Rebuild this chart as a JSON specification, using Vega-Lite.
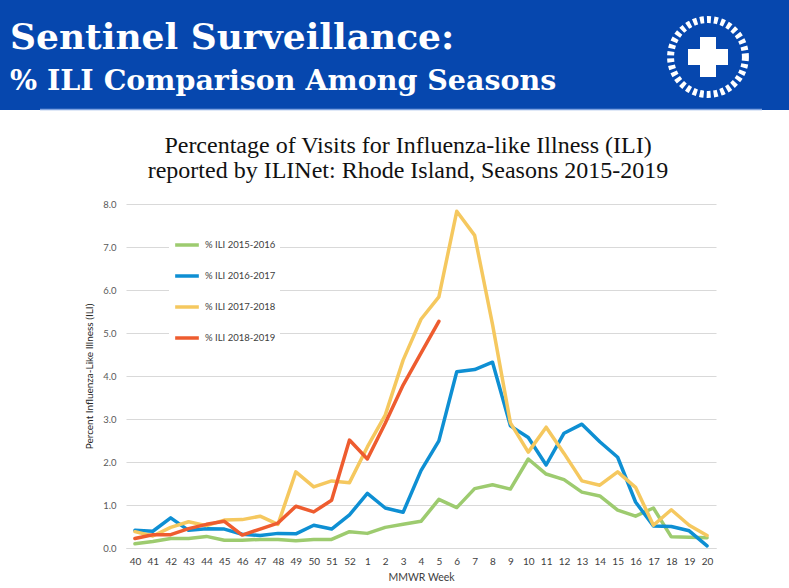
{
  "$schema": "https://vega.github.io/schema/vega-lite/v6.json",
  "description": "Percentage of visits for influenza-like illness, Rhode Island ILINet, seasons 2015-2019",
  "background": "white",
  "padding": 0,
  "config": {
    "view": {"stroke": null},
    "font": "Lato"
  },
  "vconcat": [
    {
      "width": 789,
      "height": 110,
      "view": {"fill": "#0647ae", "stroke": null},
      "title": {
        "text": "Sentinel Surveillance:",
        "subtitle": "% ILI Comparison Among Seasons",
        "anchor": "start",
        "frame": "group",
        "orient": "top",
        "offset": -96,
        "dx": 10,
        "font": "DejaVu Serif",
        "fontSize": 36,
        "fontWeight": "bold",
        "color": "white",
        "subtitleFont": "DejaVu Serif",
        "subtitleFontSize": 28.5,
        "subtitleFontWeight": "bold",
        "subtitleColor": "white",
        "subtitlePadding": 10
      },
      "data": {"values": [{"logo": "Rhode Island Department of Health"}]},
      "layer": [
        {
          "mark": {"type": "point", "shape": "circle", "filled": false, "size": 5600, "stroke": "white", "strokeWidth": 7, "strokeDash": [4, 3], "opacity": 1},
          "encoding": {
            "x": {"datum": 708, "type": "quantitative", "scale": {"domain": [0, 789], "nice": false, "zero": false}, "axis": null},
            "y": {"datum": 57, "type": "quantitative", "scale": {"domain": [110, 0], "nice": false, "zero": false}, "axis": null}
          }
        },
        {
          "mark": {"type": "point", "shape": "cross", "filled": true, "size": 1600, "color": "white", "opacity": 1},
          "encoding": {
            "x": {"datum": 708, "type": "quantitative"},
            "y": {"datum": 57, "type": "quantitative"}
          }
        },
        {
          "mark": {"type": "rule", "color": "#7fa3e0", "strokeWidth": 1.5},
          "encoding": {
            "x": {"datum": 40, "type": "quantitative"},
            "x2": {"datum": 762},
            "y": {"datum": 109.5, "type": "quantitative"}
          }
        }
      ]
    },
    {
      "hconcat": [
        {
          "width": 6,
          "height": 344,
          "data": {"values": []},
          "mark": "point",
          "encoding": {}
        },
        {
          "width": 590,
          "height": 344,
          "title": {
            "text": ["Percentage of Visits for Influenza-like Illness (ILI)", "reported by ILINet: Rhode Island, Seasons 2015-2019"],
            "font": "Liberation Serif",
            "fontSize": 24,
            "fontWeight": "normal",
            "color": "#111111",
            "anchor": "middle",
            "frame": "group",
            "lineHeight": 25,
            "offset": 16,
            "dx": -13
          },
          "data": {
            "values": [
              {"week": "40", "season": "% ILI 2015-2016", "ili": 0.10},
              {"week": "41", "season": "% ILI 2015-2016", "ili": 0.15},
              {"week": "42", "season": "% ILI 2015-2016", "ili": 0.22},
              {"week": "43", "season": "% ILI 2015-2016", "ili": 0.22},
              {"week": "44", "season": "% ILI 2015-2016", "ili": 0.27},
              {"week": "45", "season": "% ILI 2015-2016", "ili": 0.18},
              {"week": "46", "season": "% ILI 2015-2016", "ili": 0.18},
              {"week": "47", "season": "% ILI 2015-2016", "ili": 0.20},
              {"week": "48", "season": "% ILI 2015-2016", "ili": 0.20},
              {"week": "49", "season": "% ILI 2015-2016", "ili": 0.17},
              {"week": "50", "season": "% ILI 2015-2016", "ili": 0.20},
              {"week": "51", "season": "% ILI 2015-2016", "ili": 0.20},
              {"week": "52", "season": "% ILI 2015-2016", "ili": 0.38},
              {"week": "1", "season": "% ILI 2015-2016", "ili": 0.34},
              {"week": "2", "season": "% ILI 2015-2016", "ili": 0.48},
              {"week": "3", "season": "% ILI 2015-2016", "ili": 0.55},
              {"week": "4", "season": "% ILI 2015-2016", "ili": 0.62},
              {"week": "5", "season": "% ILI 2015-2016", "ili": 1.13},
              {"week": "6", "season": "% ILI 2015-2016", "ili": 0.94},
              {"week": "7", "season": "% ILI 2015-2016", "ili": 1.38},
              {"week": "8", "season": "% ILI 2015-2016", "ili": 1.47},
              {"week": "9", "season": "% ILI 2015-2016", "ili": 1.37},
              {"week": "10", "season": "% ILI 2015-2016", "ili": 2.07},
              {"week": "11", "season": "% ILI 2015-2016", "ili": 1.72},
              {"week": "12", "season": "% ILI 2015-2016", "ili": 1.59},
              {"week": "13", "season": "% ILI 2015-2016", "ili": 1.30},
              {"week": "14", "season": "% ILI 2015-2016", "ili": 1.21},
              {"week": "15", "season": "% ILI 2015-2016", "ili": 0.88},
              {"week": "16", "season": "% ILI 2015-2016", "ili": 0.74},
              {"week": "17", "season": "% ILI 2015-2016", "ili": 0.93},
              {"week": "18", "season": "% ILI 2015-2016", "ili": 0.26},
              {"week": "19", "season": "% ILI 2015-2016", "ili": 0.25},
              {"week": "20", "season": "% ILI 2015-2016", "ili": 0.24},
              {"week": "40", "season": "% ILI 2016-2017", "ili": 0.41},
              {"week": "41", "season": "% ILI 2016-2017", "ili": 0.39},
              {"week": "42", "season": "% ILI 2016-2017", "ili": 0.70},
              {"week": "43", "season": "% ILI 2016-2017", "ili": 0.41},
              {"week": "44", "season": "% ILI 2016-2017", "ili": 0.45},
              {"week": "45", "season": "% ILI 2016-2017", "ili": 0.44},
              {"week": "46", "season": "% ILI 2016-2017", "ili": 0.32},
              {"week": "47", "season": "% ILI 2016-2017", "ili": 0.29},
              {"week": "48", "season": "% ILI 2016-2017", "ili": 0.34},
              {"week": "49", "season": "% ILI 2016-2017", "ili": 0.33},
              {"week": "50", "season": "% ILI 2016-2017", "ili": 0.53},
              {"week": "51", "season": "% ILI 2016-2017", "ili": 0.44},
              {"week": "52", "season": "% ILI 2016-2017", "ili": 0.77},
              {"week": "1", "season": "% ILI 2016-2017", "ili": 1.27},
              {"week": "2", "season": "% ILI 2016-2017", "ili": 0.93},
              {"week": "3", "season": "% ILI 2016-2017", "ili": 0.83},
              {"week": "4", "season": "% ILI 2016-2017", "ili": 1.80},
              {"week": "5", "season": "% ILI 2016-2017", "ili": 2.49},
              {"week": "6", "season": "% ILI 2016-2017", "ili": 4.10},
              {"week": "7", "season": "% ILI 2016-2017", "ili": 4.15},
              {"week": "8", "season": "% ILI 2016-2017", "ili": 4.32},
              {"week": "9", "season": "% ILI 2016-2017", "ili": 2.84},
              {"week": "10", "season": "% ILI 2016-2017", "ili": 2.57},
              {"week": "11", "season": "% ILI 2016-2017", "ili": 1.93},
              {"week": "12", "season": "% ILI 2016-2017", "ili": 2.67},
              {"week": "13", "season": "% ILI 2016-2017", "ili": 2.88},
              {"week": "14", "season": "% ILI 2016-2017", "ili": 2.47},
              {"week": "15", "season": "% ILI 2016-2017", "ili": 2.11},
              {"week": "16", "season": "% ILI 2016-2017", "ili": 1.07},
              {"week": "17", "season": "% ILI 2016-2017", "ili": 0.51},
              {"week": "18", "season": "% ILI 2016-2017", "ili": 0.50},
              {"week": "19", "season": "% ILI 2016-2017", "ili": 0.40},
              {"week": "20", "season": "% ILI 2016-2017", "ili": 0.05},
              {"week": "40", "season": "% ILI 2017-2018", "ili": 0.38},
              {"week": "41", "season": "% ILI 2017-2018", "ili": 0.28},
              {"week": "42", "season": "% ILI 2017-2018", "ili": 0.48},
              {"week": "43", "season": "% ILI 2017-2018", "ili": 0.61},
              {"week": "44", "season": "% ILI 2017-2018", "ili": 0.52},
              {"week": "45", "season": "% ILI 2017-2018", "ili": 0.65},
              {"week": "46", "season": "% ILI 2017-2018", "ili": 0.66},
              {"week": "47", "season": "% ILI 2017-2018", "ili": 0.74},
              {"week": "48", "season": "% ILI 2017-2018", "ili": 0.55},
              {"week": "49", "season": "% ILI 2017-2018", "ili": 1.77},
              {"week": "50", "season": "% ILI 2017-2018", "ili": 1.42},
              {"week": "51", "season": "% ILI 2017-2018", "ili": 1.56},
              {"week": "52", "season": "% ILI 2017-2018", "ili": 1.52},
              {"week": "1", "season": "% ILI 2017-2018", "ili": 2.35},
              {"week": "2", "season": "% ILI 2017-2018", "ili": 3.09},
              {"week": "3", "season": "% ILI 2017-2018", "ili": 4.37},
              {"week": "4", "season": "% ILI 2017-2018", "ili": 5.32},
              {"week": "5", "season": "% ILI 2017-2018", "ili": 5.84},
              {"week": "6", "season": "% ILI 2017-2018", "ili": 7.83},
              {"week": "7", "season": "% ILI 2017-2018", "ili": 7.27},
              {"week": "8", "season": "% ILI 2017-2018", "ili": 5.20},
              {"week": "9", "season": "% ILI 2017-2018", "ili": 2.91},
              {"week": "10", "season": "% ILI 2017-2018", "ili": 2.23},
              {"week": "11", "season": "% ILI 2017-2018", "ili": 2.81},
              {"week": "12", "season": "% ILI 2017-2018", "ili": 2.20},
              {"week": "13", "season": "% ILI 2017-2018", "ili": 1.56},
              {"week": "14", "season": "% ILI 2017-2018", "ili": 1.46},
              {"week": "15", "season": "% ILI 2017-2018", "ili": 1.77},
              {"week": "16", "season": "% ILI 2017-2018", "ili": 1.41},
              {"week": "17", "season": "% ILI 2017-2018", "ili": 0.53},
              {"week": "18", "season": "% ILI 2017-2018", "ili": 0.89},
              {"week": "19", "season": "% ILI 2017-2018", "ili": 0.53},
              {"week": "20", "season": "% ILI 2017-2018", "ili": 0.29},
              {"week": "40", "season": "% ILI 2018-2019", "ili": 0.22},
              {"week": "41", "season": "% ILI 2018-2019", "ili": 0.31},
              {"week": "42", "season": "% ILI 2018-2019", "ili": 0.31},
              {"week": "43", "season": "% ILI 2018-2019", "ili": 0.45},
              {"week": "44", "season": "% ILI 2018-2019", "ili": 0.55},
              {"week": "45", "season": "% ILI 2018-2019", "ili": 0.62},
              {"week": "46", "season": "% ILI 2018-2019", "ili": 0.30},
              {"week": "47", "season": "% ILI 2018-2019", "ili": 0.44},
              {"week": "48", "season": "% ILI 2018-2019", "ili": 0.58},
              {"week": "49", "season": "% ILI 2018-2019", "ili": 0.97},
              {"week": "50", "season": "% ILI 2018-2019", "ili": 0.84},
              {"week": "51", "season": "% ILI 2018-2019", "ili": 1.11},
              {"week": "52", "season": "% ILI 2018-2019", "ili": 2.51},
              {"week": "1", "season": "% ILI 2018-2019", "ili": 2.07},
              {"week": "2", "season": "% ILI 2018-2019", "ili": 2.90},
              {"week": "3", "season": "% ILI 2018-2019", "ili": 3.79},
              {"week": "4", "season": "% ILI 2018-2019", "ili": 4.53},
              {"week": "5", "season": "% ILI 2018-2019", "ili": 5.27}
            ]
          },
          "mark": {"type": "line", "strokeWidth": 3.5, "strokeJoin": "round", "strokeCap": "round"},
          "encoding": {
            "x": {
              "field": "week",
              "type": "ordinal",
              "sort": ["40", "41", "42", "43", "44", "45", "46", "47", "48", "49", "50", "51", "52", "1", "2", "3", "4", "5", "6", "7", "8", "9", "10", "11", "12", "13", "14", "15", "16", "17", "18", "19", "20"],
              "scale": {"type": "point", "padding": 0.5},
              "axis": {
                "title": "MMWR Week",
                "labelAngle": 0,
                "ticks": false,
                "domain": true,
                "domainColor": "#d9d9d9",
                "labelFontSize": 10,
                "labelColor": "#404040",
                "labelPadding": 8,
                "titleFontSize": 10.5,
                "titleFontWeight": "normal",
                "titleColor": "#404040",
                "titlePadding": 6
              }
            },
            "y": {
              "field": "ili",
              "type": "quantitative",
              "scale": {"domain": [0, 8], "nice": false},
              "axis": {
                "title": "Percent Influenza-Like Illness (ILI)",
                "values": [0, 1, 2, 3, 4, 5, 6, 7, 8],
                "format": ".1f",
                "domain": false,
                "ticks": false,
                "gridColor": "#d9d9d9",
                "gridWidth": 1,
                "labelFontSize": 9.5,
                "labelColor": "#595959",
                "labelPadding": 10,
                "titleFontSize": 10,
                "titleFontWeight": "normal",
                "titleColor": "#262626",
                "titlePadding": 8
              }
            },
            "color": {
              "field": "season",
              "type": "nominal",
              "scale": {
                "domain": ["% ILI 2015-2016", "% ILI 2016-2017", "% ILI 2017-2018", "% ILI 2018-2019"],
                "range": ["#9dcb6f", "#0e8fd3", "#f5c85f", "#ee5c2f"]
              },
              "legend": {
                "title": null,
                "orient": "none",
                "legendX": 169,
                "legendY": 227,
                "fillColor": "white",
                "padding": 4,
                "symbolType": "stroke",
                "symbolSize": 560,
                "symbolStrokeWidth": 3.5,
                "labelFontSize": 9.5,
                "labelColor": "#404040",
                "labelOffset": 4,
                "rowPadding": 10
              }
            }
          }
        }
      ],
      "spacing": 120,
      "bounds": "flush"
    }
  ],
  "spacing": 94,
  "bounds": "flush"
}
